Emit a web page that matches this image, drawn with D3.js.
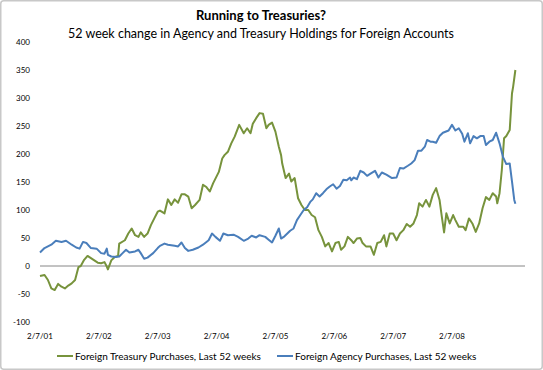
<!DOCTYPE html>
<html>
<head>
<meta charset="utf-8">
<script src="https://cdnjs.cloudflare.com/ajax/libs/d3/7.8.5/d3.min.js"></script>
<style>
body { margin: 0; background: #fff; }
text { font-family: Lato, "Liberation Sans", sans-serif; fill: #000; }
</style>
</head>
<body>
<div id="viz"></div>
<script>
// weeks since 2/7/01, value ($bn change over last 52 weeks)
var treasury = [
  [0,-18],[4,-16],[7,-25],[10,-40],[13,-43],[16,-32],[19,-37],[22,-40],[25,-35],[28,-31],
  [31,-25],[34,-2],[36,0],[39,11],[42,18],[45,14],[48,10],[51,6],[54,5],[57,7],
  [59,-1],[60,-6],[63,10],[66,16],[69,18],[70,40],[75,46],[78,58],[81,67],[84,55],
  [87,52],[89,60],[92,52],[95,58],[98,73],[101,85],[104,97],[106,99],[110,94],[113,119],
  [116,109],[119,119],[122,113],[125,128],[128,128],[131,124],[134,103],[137,109],[141,118],[144,145],
  [147,141],[150,133],[153,148],[158,168],[161,192],[163,198],[166,204],[169,219],[172,231],[176,252],
  [180,237],[183,246],[186,237],[188,254],[191,264],[194,273],[197,272],[200,246],[202,252],[205,256],
  [208,240],[211,213],[213,198],[214,183],[217,157],[220,165],[222,151],[225,157],[228,121],[231,109],
  [234,100],[237,100],[240,91],[243,87],[246,64],[249,52],[252,35],[255,41],[258,26],[261,41],
  [264,43],[266,29],[269,35],[272,52],[275,46],[277,41],[280,49],[283,50],[285,41],[288,35],
  [292,35],[295,20],[298,41],[301,43],[304,55],[306,35],[309,58],[312,58],[315,46],[318,58],
  [321,64],[324,75],[327,70],[330,76],[333,91],[335,112],[338,106],[341,118],[344,106],[347,127],
  [350,139],[353,118],[355,88],[357,60],[359,94],[362,76],[365,91],[367,82],[370,70],[374,70],
  [376,64],[379,85],[382,76],[385,61],[388,76],[391,103],[394,123],[397,118],[400,130],[403,124],
  [404,112],[406,130],[408,171],[410,228],[412,232],[415,243],[417,308],[418,320],[420,350]
];
var agency = [
  [0,24],[4,32],[10,38],[14,45],[19,43],[23,45],[28,38],[32,33],[35,31],[38,43],
  [41,41],[45,32],[50,31],[54,23],[57,22],[59,31],[60,20],[63,17],[67,16],[70,17],
  [73,23],[76,29],[79,24],[84,26],[87,29],[89,23],[92,13],[95,15],[100,23],[104,32],
  [106,36],[110,40],[113,38],[119,36],[122,35],[125,42],[128,32],[131,27],[135,29],[140,33],
  [144,38],[149,46],[152,58],[155,52],[159,45],[162,58],[166,55],[171,56],[175,52],[180,45],
  [184,49],[187,54],[191,51],[194,55],[199,52],[202,47],[205,42],[208,54],[211,67],[213,49],
  [216,53],[221,63],[224,67],[227,82],[230,91],[233,100],[236,105],[239,115],[241,119],[244,130],
  [247,124],[250,130],[253,137],[256,142],[259,146],[262,138],[265,143],[268,154],[271,153],[274,158],
  [275,153],[277,158],[280,155],[283,170],[286,167],[289,161],[292,165],[296,170],[299,158],[302,167],
  [306,163],[311,157],[315,158],[318,175],[321,174],[325,179],[328,183],[331,189],[334,206],[337,206],
  [340,213],[342,225],[345,222],[347,222],[350,220],[353,232],[356,238],[361,242],[364,252],[367,242],
  [370,246],[373,236],[375,222],[378,237],[380,219],[383,232],[386,228],[389,232],[392,232],[394,216],
  [397,222],[400,225],[403,238],[406,219],[409,195],[412,182],[415,183],[417,151],[419,118],[420,111]
];
var seriesNames = ["Foreign Treasury Purchases, Last 52 weeks", "Foreign Agency Purchases, Last 52 weeks"];
var seriesColors = ["#77933C", "#4A7EBB"];
var yTicks = [-100, -50, 0, 50, 100, 150, 200, 250, 300, 350, 400];
var xTickWeeks = [0, 52, 104, 156, 208, 260, 312, 364];
var xTickLabels = ["2/7/01", "2/7/02", "2/7/03", "2/7/04", "2/7/05", "2/7/06", "2/7/07", "2/7/08"];

var width = 543, height = 370;

var svg = d3.select("#viz")
    .append("svg")
    .attr("width", width)
    .attr("height", height);

svg.append("rect")
    .attr("x", 0.75).attr("y", 0.75)
    .attr("width", width - 1.5).attr("height", height - 1.5)
    .attr("rx", 3)
    .style("fill", "#fff")
    .style("stroke", "#c8c8c8")
    .style("stroke-width", 1.5);

var x = d3.scaleLinear().domain([0, 428.5]).range([40, 525]);
var y = d3.scaleLinear().domain([-100, 400]).range([322, 42]);

// titles
svg.append("text")
    .attr("x", 261).attr("y", 20)
    .attr("text-anchor", "middle")
    .style("font-size", "13px")
    .style("font-weight", "bold")
    .text("Running to Treasuries?");
svg.append("text")
    .attr("x", 261).attr("y", 38)
    .attr("text-anchor", "middle")
    .style("font-size", "12.5px")
    .text("52 week change in Agency and Treasury Holdings for Foreign Accounts");

// y labels
svg.selectAll(".ylab")
    .data(yTicks)
    .enter().append("text")
    .attr("class", "ylab")
    .attr("x", 30)
    .attr("y", function(d) { return y(d); })
    .attr("dy", "0.35em")
    .attr("text-anchor", "end")
    .style("font-size", "8px")
    .text(function(d) { return d; });

// x labels
svg.selectAll(".xlab")
    .data(xTickWeeks)
    .enter().append("text")
    .attr("class", "xlab")
    .attr("x", function(d) { return x(d); })
    .attr("y", 336)
    .attr("dy", "0.35em")
    .attr("text-anchor", "middle")
    .style("font-size", "8px")
    .text(function(d, i) { return xTickLabels[i]; });

// zero line
svg.append("line")
    .attr("x1", x(0)).attr("x2", x(428.5))
    .attr("y1", y(0)).attr("y2", y(0))
    .style("stroke", "#868686")
    .style("stroke-width", 1);

var line = d3.line()
    .x(function(d) { return x(d[0]); })
    .y(function(d) { return y(d[1]); });

svg.selectAll(".series")
    .data([treasury, agency])
    .enter().append("path")
    .attr("class", "series")
    .attr("d", line)
    .style("fill", "none")
    .style("stroke", function(d, i) { return seriesColors[i]; })
    .style("stroke-width", 2)
    .style("stroke-linejoin", "round");

// legend
var legendX = [57, 277];
var legend = svg.selectAll(".legend")
    .data(seriesNames)
    .enter().append("g")
    .attr("class", "legend")
    .attr("transform", function(d, i) { return "translate(" + legendX[i] + ",356)"; });

legend.append("line")
    .attr("x1", 0).attr("x2", 16)
    .style("stroke", function(d, i) { return seriesColors[i]; })
    .style("stroke-width", 2);

legend.append("text")
    .attr("x", 18)
    .attr("dy", "0.35em")
    .style("font-size", "10px")
    .text(function(d) { return d; });
</script>
</body>
</html>
